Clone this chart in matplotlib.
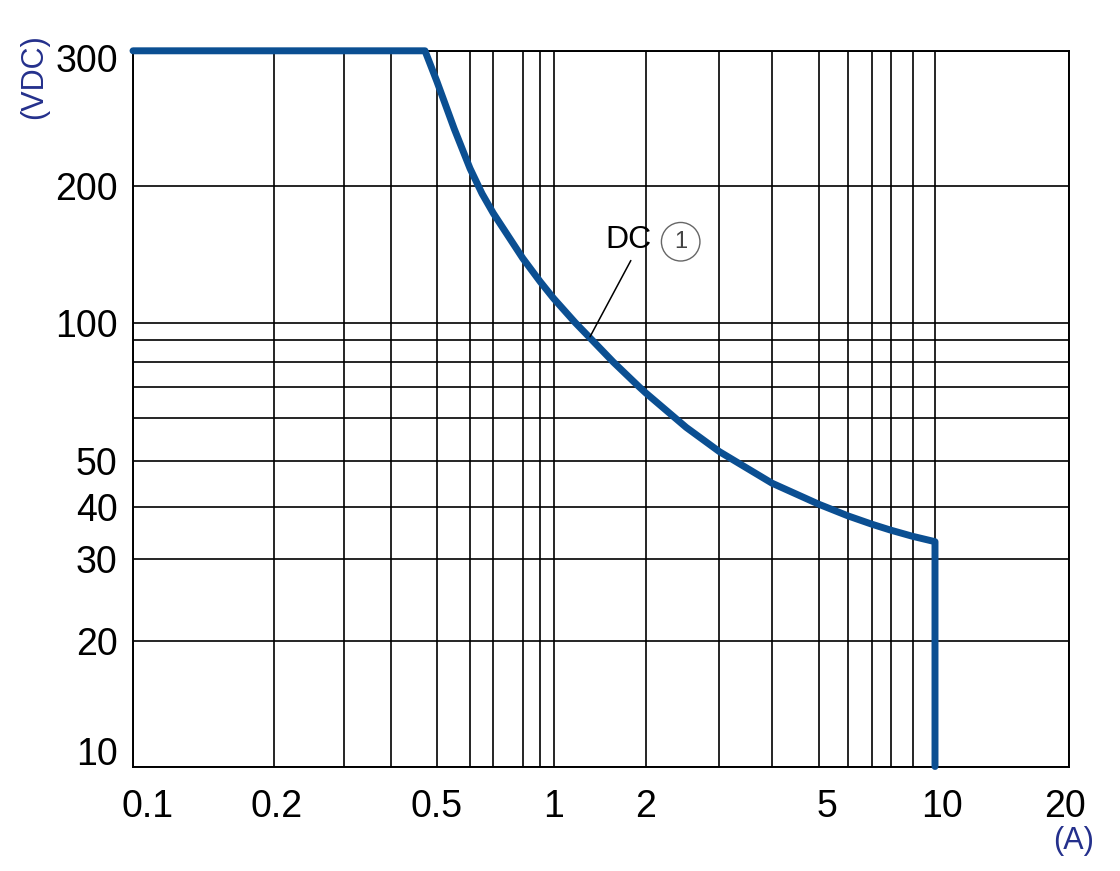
import matplotlib
matplotlib.use('Agg')
import matplotlib.pyplot as plt
import matplotlib.transforms as mtransforms
from matplotlib.ticker import FixedLocator, FixedFormatter, NullFormatter
import numpy as np

# printed grid of the datasheet: it is log-like but not evenly spaced,
# so each grid value gets its own position along the axis
x_grid = [0.1, 0.2, 0.3, 0.4, 0.5, 0.6, 0.7, 0.8, 0.9, 1,
          2, 3, 4, 5, 6, 7, 8, 9, 10, 20]
x_grid_pos = [133, 273.5, 344, 390.5, 437, 470, 493.3, 522.8, 540.3, 553.5,
              645.7, 719.3, 772, 818.7, 848.3, 871.7, 890.7, 912.7, 935, 1069]
y_grid = [10, 20, 30, 40, 50, 60, 70, 80, 90, 100, 200, 300]
y_grid_pos = [766.5, 641, 558.7, 507.3, 460.7, 418.3, 387, 362, 340, 322.7, 186.3, 50.8]

x_labels = [0.1, 0.2, 0.5, 1, 2, 5, 10, 20]
y_labels = [10, 20, 30, 40, 50, 100, 200, 300]

# DC load limit curve (A, VDC)
current = [0.1, 0.472, 0.5, 0.55, 0.6, 0.65, 0.7, 0.8, 0.9, 1.0, 1.178,
           1.336, 1.567, 1.906, 2, 2.5, 3, 4, 5, 6, 7, 8, 9, 10, 10]
voltage = [300, 300, 273.5, 237.5, 211, 192.6, 174.4, 138.7, 123.1, 113.2, 100,
           90, 80, 70, 68, 57.7, 52, 44.9, 40.6, 38.1, 36.4, 35.2, 34.0, 33.0, 10]

CURVE = '#0b4f92'
UNIT = '#24308c'


def sheet_scale(vals, pos, flip=False):
    """forward/inverse pair mapping values onto the printed grid."""
    lv = np.log10(vals)
    p = np.asarray(pos, float)
    p = p[0] - p if flip else p - p[0]

    def fwd(v):
        v = np.clip(np.asarray(v, float), 1e-9, None)
        return np.interp(np.log10(v), lv, p)

    def inv(u):
        return 10 ** np.interp(np.asarray(u, float), p, lv)
    return fwd, inv


def nudge(ticks, values, offsets, fig):
    for tick, val in zip(ticks, values):
        dx, dy = offsets.get(val, (0, 0))
        if dx or dy:
            off = mtransforms.ScaledTranslation(dx / 100, dy / 100, fig.dpi_scale_trans)
            tick.label1.set_transform(tick.label1.get_transform() + off)


plt.rcParams['font.family'] = ['Liberation Sans', 'DejaVu Sans']

fig = plt.figure(figsize=(11.2, 8.71), dpi=100)
ax = fig.add_axes([133 / 1120, 1 - 766.5 / 871, (1069 - 133) / 1120, (766.5 - 50.8) / 871])

ax.set_xscale('function', functions=sheet_scale(x_grid, x_grid_pos))
ax.set_yscale('function', functions=sheet_scale(y_grid, y_grid_pos, flip=True))
ax.set_xlim(0.1, 20)
ax.set_ylim(10, 300)

ax.xaxis.set_major_locator(FixedLocator(x_labels))
ax.xaxis.set_major_formatter(FixedFormatter([f'{v:g}' for v in x_labels]))
ax.xaxis.set_minor_locator(FixedLocator([v for v in x_grid if v not in x_labels]))
ax.xaxis.set_minor_formatter(NullFormatter())
ax.yaxis.set_major_locator(FixedLocator(y_labels))
ax.yaxis.set_major_formatter(FixedFormatter([f'{v:g}' for v in y_labels]))
ax.yaxis.set_minor_locator(FixedLocator([v for v in y_grid if v not in y_labels]))
ax.yaxis.set_minor_formatter(NullFormatter())

ax.grid(True, which='both', color='black', lw=1.2)
ax.tick_params(which='both', length=0)
ax.tick_params(axis='x', pad=16, labelsize=27)
ax.tick_params(axis='y', pad=11, labelsize=27)
for s in ax.spines.values():
    s.set_linewidth(1.4)

ax.plot(current, voltage, color=CURVE, lw=5, solid_capstyle='round',
        solid_joinstyle='round', clip_on=False, zorder=5)

ax.annotate('DC', xy=(1.316, 91.8), xytext=(1.764, 152), fontsize=23,
            ha='center', va='center',
            arrowprops=dict(arrowstyle='-', color='black', lw=1.1,
                            shrinkA=2, shrinkB=0, relpos=(0.6, 0.0)),
            zorder=6)
ax.text(2.425, 150.9, '1', fontsize=17, color='#444444', ha='center', va='center',
        bbox=dict(boxstyle='circle,pad=0.35', fc='white', ec='#666666', lw=1.0),
        zorder=6)

fig.text(34 / 1120, 1 - 77 / 871, '(VDC)', rotation=90, color=UNIT,
         fontsize=22, ha='center', va='center')
fig.text(1074 / 1120, 1 - 841 / 871, '(A)', color=UNIT,
         fontsize=22, ha='center', va='center')

nudge(ax.xaxis.get_major_ticks(), x_labels,
      {0.1: (15, 0), 0.2: (3, 0), 5: (8, 0), 10: (7, 0), 20: (-4, 0)}, fig)
nudge(ax.yaxis.get_major_ticks(), y_labels,
      {300: (0, -7.5), 10: (0, 16)}, fig)

fig.savefig('out.png', dpi=100, facecolor='white')
